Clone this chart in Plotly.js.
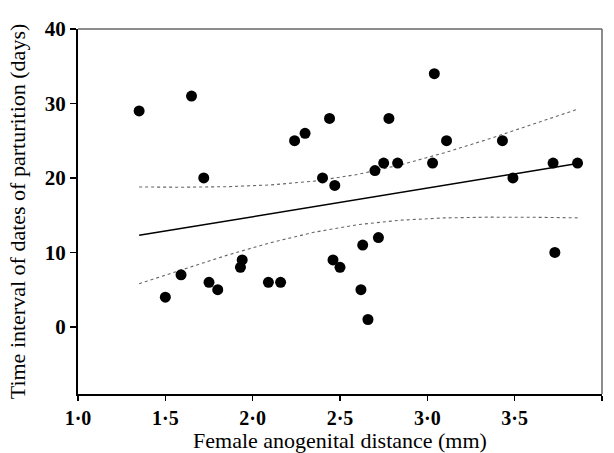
<!DOCTYPE html>
<html>
<head>
<meta charset="utf-8">
<script src="https://cdn.plot.ly/plotly-3.0.1.min.js"></script>
<style>html,body{margin:0;padding:0;background:#fff;}#chart{width:614px;height:453px;}</style>
</head>
<body>
<div id="chart"></div>
<script>
// Observed points: female anogenital distance (mm) vs time interval (days)
const agd = [1.35, 1.65, 1.72, 1.50, 1.59, 1.75, 1.80, 1.93, 1.94, 2.09, 2.16,
             2.24, 2.30, 2.44, 2.40, 2.47, 2.46, 2.50, 2.62, 2.66, 2.63, 2.72,
             2.70, 2.75, 2.78, 2.83, 3.04, 3.03, 3.11, 3.43, 3.49, 3.72, 3.73, 3.86];
const interval = [29, 31, 20, 4, 7, 6, 5, 8, 9, 6, 6,
                  25, 26, 28, 20, 19, 9, 8, 5, 1, 11, 12,
                  21, 22, 28, 22, 34, 22, 25, 25, 20, 22, 10, 22];

// Regression line
const fitX = [1.35, 3.86];
const fitY = [12.3, 21.94];

// Confidence band
const ciX     = [1.35, 1.60, 1.85, 2.10, 2.35, 2.60, 2.85, 3.10, 3.35, 3.60, 3.86];
const ciUpper = [18.79, 18.76, 18.83, 19.06, 19.57, 20.47, 21.78, 23.40, 25.22, 27.15, 29.23];
const ciLower = [5.81, 7.76, 9.61, 11.30, 12.71, 13.73, 14.34, 14.64, 14.74, 14.73, 14.65];

// Tick labels
const xTickVals = [1.0, 1.5, 2.0, 2.5, 3.0, 3.5, 4.0];
const xTickText = ['1·0', '1·5', '2·0', '2·5', '3·0', '3·5', '4·0'];
const yTickVals = [0, 10, 20, 30, 40];

const serif = 'Liberation Serif, Times New Roman, serif';

const traces = [
  {x: ciX, y: ciUpper, mode: 'lines', line: {color: '#666', width: 1.1, dash: 'dot'}, hoverinfo: 'skip'},
  {x: ciX, y: ciLower, mode: 'lines', line: {color: '#666', width: 1.1, dash: 'dot'}, hoverinfo: 'skip'},
  {x: fitX, y: fitY, mode: 'lines', line: {color: '#000', width: 1.5}},
  {x: agd, y: interval, mode: 'markers', marker: {color: '#000', size: 11, line: {width: 0}}}
];

const layout = {
  width: 614, height: 453,
  margin: {l: 78, r: 12, t: 29, b: 59, pad: 0},
  paper_bgcolor: '#fff', plot_bgcolor: '#fff',
  showlegend: false,
  font: {family: serif, color: '#000'},
  xaxis: {
    range: [1, 4], tickvals: xTickVals, ticktext: xTickText,
    ticks: 'outside', ticklen: 5, tickwidth: 1.5, tickcolor: '#000',
    showline: true, linecolor: '#000', linewidth: 2,
    showgrid: false, zeroline: false,
    tickfont: {family: serif, size: 20, weight: 'bold', color: '#000'},
    title: {text: 'Female anogenital distance (mm)', font: {family: serif, size: 22, color: '#000'}, standoff: 12},
    automargin: false
  },
  yaxis: {
    range: [-9, 40], tickvals: yTickVals,
    ticks: 'outside', ticklen: 6, tickwidth: 1.5, tickcolor: '#000',
    showline: true, linecolor: '#000', linewidth: 2,
    showgrid: false, zeroline: false,
    tickfont: {family: serif, size: 21, weight: 'bold', color: '#000'},
    title: {text: 'Time interval of dates of parturition (days)', font: {family: serif, size: 22, color: '#000'}, standoff: 13},
    automargin: false
  },
  shapes: [
    {type: 'line', xref: 'paper', yref: 'paper', x0: 0, x1: 1, y0: 1, y1: 1, line: {color: '#666', width: 1.5}},
    {type: 'line', xref: 'paper', yref: 'paper', x0: 1, x1: 1, y0: 0, y1: 1, line: {color: '#666', width: 1.5}}
  ]
};

Plotly.newPlot('chart', traces, layout, {displayModeBar: false, staticPlot: true});
</script>
</body>
</html>
